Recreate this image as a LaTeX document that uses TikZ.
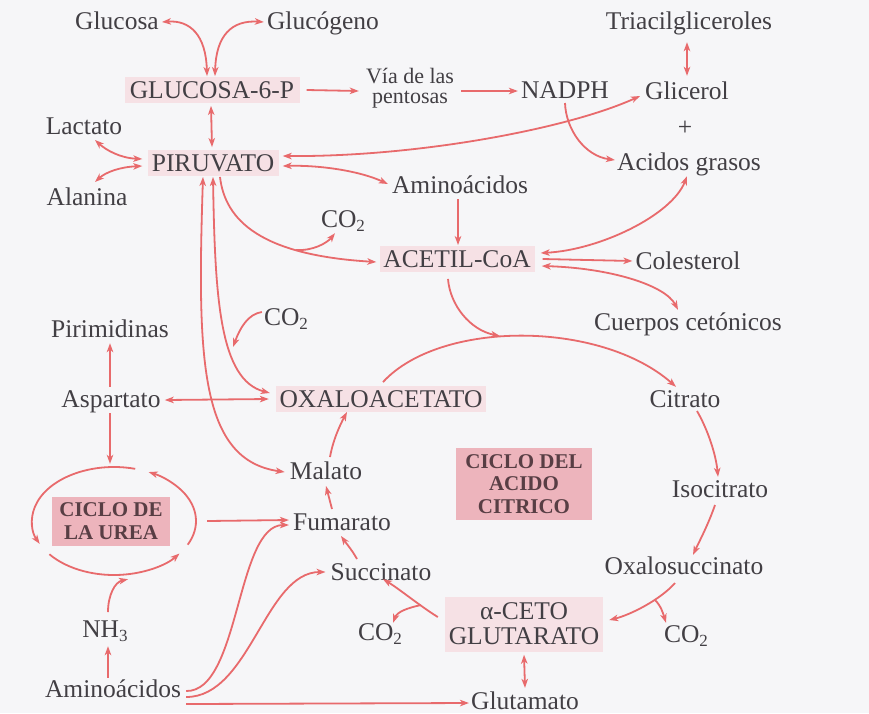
\documentclass[tikz,border=0pt]{standalone}
\usepackage{fontspec}
\setmainfont{Liberation Serif}
\usetikzlibrary{arrows.meta,shapes.geometric}
\definecolor{ar}{RGB}{232,106,108}
\definecolor{tx}{RGB}{66,63,68}
\definecolor{pk}{RGB}{246,225,229}
\definecolor{pkd}{RGB}{237,180,188}
\definecolor{txd}{RGB}{88,62,68}
\definecolor{bg}{RGB}{246,246,248}
\newcommand\lowsub[1]{\raisebox{-0.35ex}{\fontsize{17}{17}\selectfont #1}}
\tikzset{
 ah/.tip={Stealth[length=9pt,width=6.5pt,inset=2.5pt]},
 conn/.style={draw=ar, line width=1.8pt},
 arr/.style={conn,-ah},
 darr/.style={conn,ah-ah},
 lbl/.style={text=tx, font=\fontsize{25.5}{28}\selectfont, inner sep=1pt, text height=18pt, text depth=4pt},
 boxn/.style={text=tx, font=\fontsize{25.5}{28}\selectfont, fill=pk, inner xsep=1pt, inner ysep=2pt, text height=19pt, text depth=2.5pt},
 viaf/.style={text=tx, font=\fontsize{22}{20.5}\selectfont, align=center, inner sep=1pt},
 cyc/.style={fill=pkd, text=txd, font=\bfseries\fontsize{21}{22.5}\selectfont, align=center, inner sep=0pt},
 akgst/.style={fill=pk, text=tx, font=\fontsize{25.5}{25}\selectfont, align=center, inner sep=0pt},
}
\begin{document}
\begin{tikzpicture}[x=1pt,y=-1pt]
\fill[bg] (0,0) rectangle (869,713);
\useasboundingbox (0,0) rectangle (869,713);

% nodes
\node[lbl] (gluc) at (117,22) {Glucosa};
\node[lbl] (glucg) at (323,22) {Glucógeno};
\node[boxn, minimum width=175pt] (g6p) at (212,90) {GLUCOSA-6-P};
\node[viaf] (via) at (410,88) {Vía de las\\pentosas};
\node[lbl] (nadph) at (565,91) {NADPH};
\node[lbl] (tri) at (689,22) {Triacilgliceroles};
\node[lbl] (glic) at (687,92) {Glicerol};
\node[lbl] (plus) at (685,128) {+};
\node[lbl] (acg) at (689,163) {Acidos grasos};
\node[lbl] (lact) at (84,127) {Lactato};
\node[boxn, minimum width=131pt] (piru) at (213,163) {PIRUVATO};
\node[lbl] (alan) at (87,198) {Alanina};
\node[lbl] (amino1) at (460,186) {Aminoácidos};
\node[lbl] (co2a) at (343,220) {CO\lowsub{2}};
\node[boxn, minimum width=155pt] (acetil) at (457,259) {ACETIL-CoA};
\node[lbl] (col) at (688,262) {Colesterol};
\node[lbl] (cuer) at (688,323) {Cuerpos cetónicos};
\node[lbl] (pir) at (110,330) {Pirimidinas};
\node[lbl] (co2b) at (286,318) {CO\lowsub{2}};
\node[lbl] (asp) at (111,400) {Aspartato};
\node[boxn, minimum width=210pt] (oxa) at (381,399) {OXALOACETATO};
\node[lbl] (cit) at (685,400) {Citrato};
\node[cyc, minimum width=136pt, minimum height=72pt] (cac) at (524,484) {CICLO DEL\\ACIDO\\CITRICO};
\node[lbl] (mal) at (326,472) {Malato};
\node[ellipse, minimum width=164pt, minimum height=108pt, inner sep=0pt] (ureaell) at (114,521) {};
\node[cyc, minimum width=118pt, minimum height=49pt] (urea) at (111,521) {CICLO DE\\LA UREA};
\node[lbl] (fum) at (342,523) {Fumarato};
\node[lbl] (suc) at (381,573) {Succinato};
\node[lbl] (co2c) at (380,633) {CO\lowsub{2}};
\node[lbl] (nh3) at (105,630) {NH\lowsub{3}};
\node[lbl] (amino2) at (113,690) {Aminoácidos};
\node[lbl] (iso) at (720,490) {Isocitrato};
\node[lbl] (oxs) at (684,567) {Oxalosuccinato};
\node[akgst, minimum width=158pt, minimum height=55pt] (akg) at (524,624) {α-CETO\\GLUTARATO};
\node[lbl] (co2d) at (686,635) {CO\lowsub{2}};
\node[lbl] (glu) at (525,702) {Glutamato};

% branch points
\coordinate (br1) at (296,250);
\coordinate (br2) at (500,336);
\coordinate (br3) at (655,600);
\coordinate (br4) at (233,347);
\coordinate (br5) at (421,605);

% connectors
\draw[darr] ([shift={(2,0)}]gluc.east) .. controls (190,20) and (206,35) .. ([shift={(-5,-1)}]g6p.north);
\draw[darr] ([shift={(-2,0)}]glucg.west) .. controls (232,20) and (216,35) .. ([shift={(3,-1)}]g6p.north);
\draw[darr] ([shift={(-1,3)}]g6p.south) -- ([shift={(-1,-3)}]piru.north);
\draw[arr] ([shift={(7,0)}]g6p.east) -- ([shift={(-6,3)}]via.west);
\draw[arr] ([shift={(6,3)}]via.east) -- ([shift={(-2,0)}]nadph.west);
\draw[arr] ([shift={(0,12)}]nadph.center) .. controls (566,130) and (585,156) .. ([shift={(-1,-3)}]acg.west);
\draw[darr] ([shift={(-2,8)}]tri.south) -- ([shift={(0,-4)}]glic.north);
\draw[darr] ([shift={(4,-7)}]piru.east) .. controls (420,157) and (570,128) .. ([shift={(-4,4)}]glic.west);
\draw[darr] ([shift={(4,3)}]piru.east) .. controls (320,165) and (360,171) .. ([shift={(-3,-2)}]amino1.west);
\draw[darr] ([shift={(11,13)}]lact.center) .. controls (106,150) and (120,158) .. ([shift={(-5,-4)}]piru.west);
\draw[darr] ([shift={(8,-16)}]alan.center) .. controls (106,172) and (120,167) .. ([shift={(-5,3)}]piru.west);
\draw[arr] ([shift={(-2,1)}]amino1.south) -- ([shift={(1,-1)}]acetil.north);
\draw[arr] ([shift={(7,1)}]piru.south) .. controls (225,220) and (260,255) .. ([shift={(-3,3)}]acetil.west);
\draw[arr] (br1) .. controls (313,251) and (327,243) .. ([shift={(-8,1)}]co2a.south);
\draw[darr] ([shift={(-2,1)}]acg.south) .. controls (672,215) and (600,250) .. ([shift={(6,-6)}]acetil.east);
\draw[arr] ([shift={(8,0)}]acetil.east) -- ([shift={(-2,-1)}]col.west);
\draw[darr] ([shift={(7,7)}]acetil.east) .. controls (610,268) and (665,285) .. ([shift={(-10,-1)}]cuer.north);
\draw[arr] ([shift={(-9,7)}]acetil.south) .. controls (450,305) and (470,330) .. (br2);
\draw[arr] ([shift={(2,-4)}]oxa.north) .. controls (440,320) and (600,320) .. ([shift={(-9,-1)}]cit.north);
\draw[arr] ([shift={(12,11)}]cit.center) .. controls (708,430) and (716,455) .. ([shift={(-2,-1)}]iso.north);
\draw[arr] ([shift={(-5,15)}]iso.center) .. controls (708,525) and (700,540) .. ([shift={(9,0)}]oxs.north);
\draw[arr] ([shift={(-9,16)}]oxs.center) .. controls (660,600) and (630,615) .. ([shift={(6,-4)}]akg.east);
\draw[arr] (br3) .. controls (661,606) and (663,613) .. ([shift={(-20,0)}]co2d.north);
\draw[darr] ([shift={(0,3)}]akg.south) -- ([shift={(0,-2)}]glu.north);
\draw[arr] ([shift={(4,14)}]amino2.east) -- ([shift={(-1,1)}]glu.west);
\draw[arr] ([shift={(4,1)}]amino2.east) .. controls (240,692) and (236,525) .. ([shift={(-3,2)}]fum.west);
\draw[arr] ([shift={(11,0)}]ureaell.east) -- ([shift={(-3,-3)}]fum.west);
\draw[arr] ([shift={(4,7)}]amino2.east) .. controls (250,697) and (265,572) .. ([shift={(-4,-1)}]suc.west);
\draw[arr] ([shift={(-24,-14)}]suc.center) .. controls (352,550) and (346,543) .. ([shift={(-1,13)}]fum.center);
\draw[arr] ([shift={(-10,-14)}]fum.center) -- ([shift={(0,14)}]mal.center);
\draw[arr] ([shift={(4,-15)}]mal.center) .. controls (333,440) and (340,425) .. ([shift={(-34,0)}]oxa.south);
\draw[darr] ([shift={(-10,1)}]piru.south) .. controls (197,360) and (200,460) .. ([shift={(-4,0)}]mal.west);
\draw[darr] ([shift={(0,1)}]piru.south) .. controls (215,300) and (220,380) .. ([shift={(-6,-6)}]oxa.west);
\draw[arr] ([shift={(-1,-6)}]co2b.west) .. controls (248,314) and (240,328) .. (br4);
\draw[darr] ([shift={(3,0)}]asp.east) -- ([shift={(-7,0)}]oxa.west);
\draw[arr] ([shift={(-1,-1)}]asp.north) -- ([shift={(0,1)}]pir.south);
\draw[arr] ([shift={(-1,1)}]asp.south) -- ([shift={(-4,-3)}]ureaell.north);
\draw[arr] ([shift={(3,-18)}]nh3.center) .. controls (108,595) and (115,582) .. ([shift={(14,4)}]ureaell.south);
\draw[arr] ([shift={(-5,0)}]amino2.north) -- ([shift={(3,4)}]nh3.south);
\draw[arr] ([shift={(-7,-7)}]akg.west) .. controls (420,606) and (398,588) .. ([shift={(2,-6)}]suc.south);
\draw[arr] (br5) .. controls (407,608) and (397,612) .. ([shift={(13,2)}]co2c.north);

% urea cycle arcs
\draw[arr] ([shift={(75:82pt and 54pt)}]ureaell.center) arc[start angle=75, end angle=205, x radius=82pt, y radius=54pt];
\draw[arr] ([shift={(218:82pt and 54pt)}]ureaell.center) arc[start angle=218, end angle=323, x radius=82pt, y radius=54pt];
\draw[arr] ([shift={(334:82pt and 54pt)}]ureaell.center) arc[start angle=334, end angle=425, x radius=82pt, y radius=54pt];
\end{tikzpicture}
\end{document}
